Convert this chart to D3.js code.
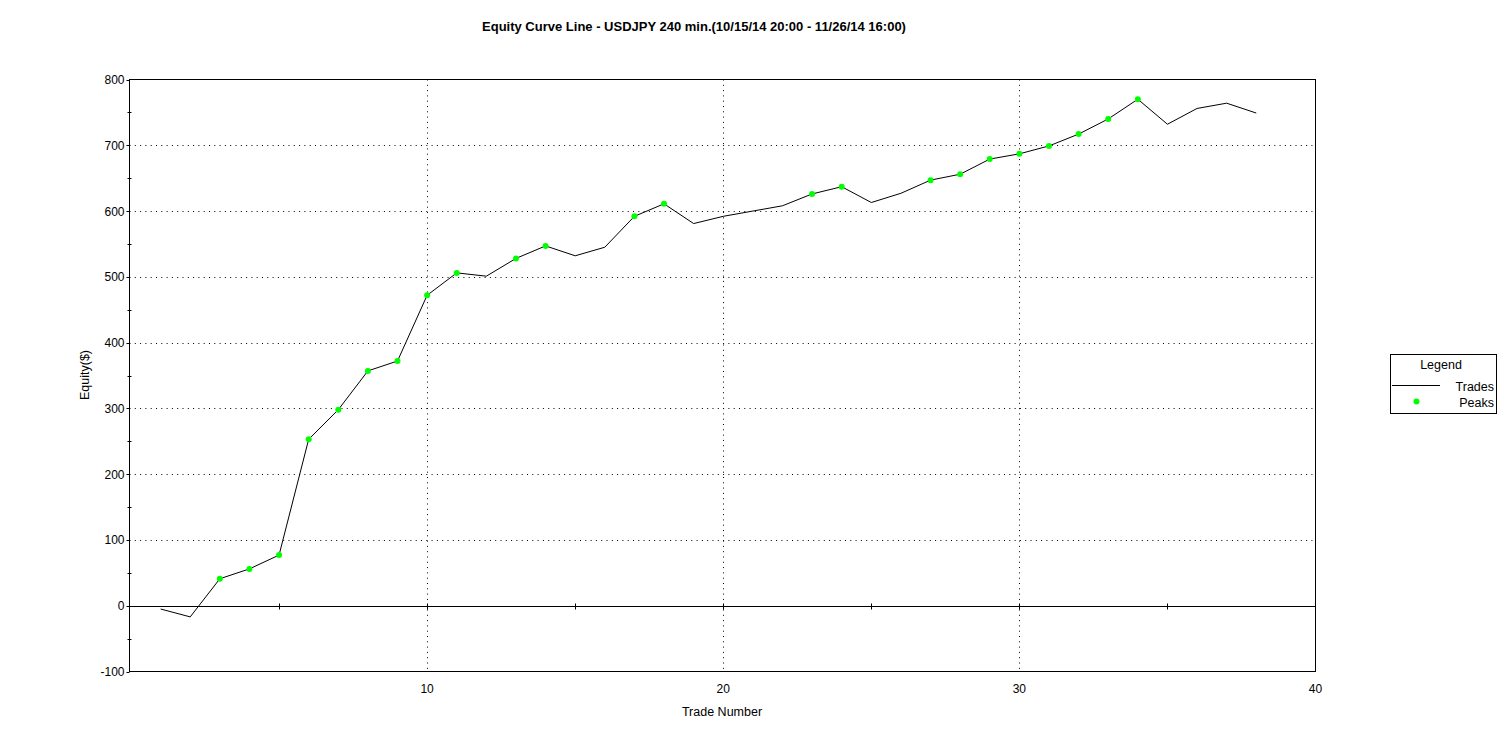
<!DOCTYPE html>
<html>
<head>
<meta charset="utf-8">
<script src="https://cdn.jsdelivr.net/npm/d3@7"></script>
<style>
  html, body { margin: 0; padding: 0; background: #fff; }
  text { font-family: "Liberation Sans", Arial, sans-serif; fill: #000; }
</style>
</head>
<body>
<svg id="chart" width="1510" height="737"></svg>
<script>
// ---- Data ----
const titleText = "Equity Curve Line - USDJPY 240 min.(10/15/14 20:00 - 11/26/14 16:00)";
const tradeNumbers = d3.range(1, 39);
const equity = [-5, -17, 41, 56, 77, 253, 298, 357, 372, 472,
                506, 501, 528, 547, 532, 545, 592, 611, 581, 592,
                600, 608, 626, 637, 613, 627, 647, 656, 679, 687,
                699, 717, 740, 770, 732, 756, 764, 749];
const peakTrades = [3, 4, 5, 6, 7, 8, 9, 10, 11, 13, 14, 17, 18, 23, 24, 27, 28, 29, 30, 31, 32, 33, 34];
const xTickLabels = [10, 20, 30, 40];
const xMinorTicks = [5, 10, 15, 20, 25, 30, 35];
const yTickLabels = [-100, 0, 100, 200, 300, 400, 500, 600, 700, 800];
const yMinorTicks = [-50, 50, 150, 250, 350, 450, 550, 650, 750];
const yGridValues = [100, 200, 300, 400, 500, 600, 700];
const xGridValues = [10, 20, 30];

// ---- Layout ----
const svg = d3.select("#chart");
const frame = { left: 129.5, right: 1315.5, top: 79.5, bottom: 671.5 };
const x = d3.scaleLinear().domain([0, 40]).range([131, 1315.5]);
const y = d3.scaleLinear().domain([-100, 800]).range([671.5, 79.5]);

// Title
svg.append("text")
  .attr("x", 694).attr("y", 31)
  .attr("text-anchor", "middle")
  .style("font-size", "13px").style("font-weight", "bold")
  .text(titleText);

// Gridlines (dotted)
const grid = svg.append("g").attr("stroke", "#000").attr("stroke-width", 1).attr("stroke-dasharray", "1,4.3");
grid.selectAll("line.h").data(yGridValues).join("line")
  .attr("x1", frame.left).attr("x2", frame.right)
  .attr("y1", d => Math.round(y(d)) + 0.5).attr("y2", d => Math.round(y(d)) + 0.5);
grid.selectAll("line.v").data(xGridValues).join("line")
  .attr("class", "v")
  .attr("x1", d => Math.round(x(d)) + 0.5).attr("x2", d => Math.round(x(d)) + 0.5)
  .attr("y1", frame.top).attr("y2", frame.bottom);

// Frame
svg.append("rect")
  .attr("x", frame.left).attr("y", frame.top)
  .attr("width", frame.right - frame.left).attr("height", frame.bottom - frame.top)
  .attr("fill", "none").attr("stroke", "#000").attr("stroke-width", 1);

// Zero line
const y0 = Math.round(y(0)) + 0.5;
svg.append("line")
  .attr("x1", frame.left).attr("x2", frame.right)
  .attr("y1", y0).attr("y2", y0)
  .attr("stroke", "#000").attr("stroke-width", 1);

// Ticks on zero line
svg.append("g").selectAll("line").data(xMinorTicks).join("line")
  .attr("x1", d => Math.round(x(d)) + 0.5).attr("x2", d => Math.round(x(d)) + 0.5)
  .attr("y1", y0 - 3).attr("y2", y0 + 3)
  .attr("stroke", "#000");

// Y axis ticks
svg.append("g").selectAll("line").data(yTickLabels).join("line")
  .attr("x1", frame.left - 3).attr("x2", frame.left)
  .attr("y1", d => Math.round(y(d)) + 0.5).attr("y2", d => Math.round(y(d)) + 0.5)
  .attr("stroke", "#000");
svg.append("g").selectAll("line").data(yMinorTicks).join("line")
  .attr("x1", frame.left - 2).attr("x2", frame.left + 2)
  .attr("y1", d => Math.round(y(d)) + 0.5).attr("y2", d => Math.round(y(d)) + 0.5)
  .attr("stroke", "#000");

// Y tick labels
svg.append("g").selectAll("text").data(yTickLabels).join("text")
  .attr("x", 124.5).attr("y", d => y(d) + 4.5)
  .attr("text-anchor", "end")
  .style("font-size", "12px")
  .text(d => d);

// X tick labels
svg.append("g").selectAll("text").data(xTickLabels).join("text")
  .attr("x", d => x(d)).attr("y", 693)
  .attr("text-anchor", "middle")
  .style("font-size", "12px")
  .text(d => d);

// Axis titles
svg.append("text")
  .attr("x", 722).attr("y", 716)
  .attr("text-anchor", "middle")
  .style("font-size", "12.5px")
  .text("Trade Number");
svg.append("text")
  .attr("transform", "translate(89,375) rotate(-90)")
  .attr("text-anchor", "middle")
  .style("font-size", "12.5px")
  .text("Equity($)");

// Line
const pts = tradeNumbers.map((t, i) => [t, equity[i]]);
svg.append("path")
  .datum(pts)
  .attr("fill", "none").attr("stroke", "#000").attr("stroke-width", 1)
  .attr("d", d3.line().x(d => x(d[0])).y(d => y(d[1])));

// Peaks
svg.append("g").selectAll("circle").data(peakTrades).join("circle")
  .attr("cx", t => x(t)).attr("cy", t => y(equity[t - 1]))
  .attr("r", 3).attr("fill", "#00ff00");

// Legend
const lg = svg.append("g");
lg.append("rect").attr("x", 1390.5).attr("y", 354.5).attr("width", 106).attr("height", 59)
  .attr("fill", "#fff").attr("stroke", "#000");
lg.append("text").attr("x", 1441).attr("y", 369).attr("text-anchor", "middle")
  .style("font-size", "12.5px").text("Legend");
lg.append("line").attr("x1", 1392).attr("x2", 1440).attr("y1", 385.5).attr("y2", 385.5).attr("stroke", "#000");
lg.append("text").attr("x", 1494).attr("y", 391).attr("text-anchor", "end")
  .style("font-size", "12.5px").text("Trades");
lg.append("circle").attr("cx", 1416.5).attr("cy", 401.5).attr("r", 3).attr("fill", "#00ff00");
lg.append("text").attr("x", 1494).attr("y", 407).attr("text-anchor", "end")
  .style("font-size", "12.5px").text("Peaks");
</script>
</body>
</html>
